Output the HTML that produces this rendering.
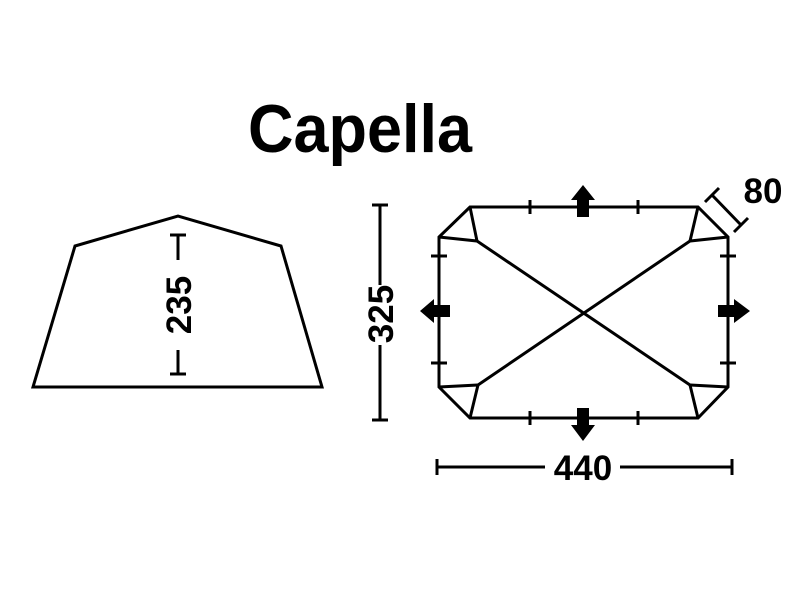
<!DOCTYPE html>
<html><head><meta charset="utf-8"><style>html,body{margin:0;padding:0;background:#fff}</style></head>
<body>
<svg width="800" height="600" viewBox="0 0 800 600" xmlns="http://www.w3.org/2000/svg" font-family="Liberation Sans, sans-serif" font-weight="bold">
<text x="248" y="152" font-size="68" textLength="224" lengthAdjust="spacingAndGlyphs">Capella</text>
<g fill="none" stroke="#000" stroke-width="3">
<polygon points="33,387 75,246 178,216 281,246 322,387"/>
<path d="M178,235V260M178,350V374M170,235H186M170,374H186"/>
<path d="M380,205V285M380,345V420M372,205H388M372,420H388"/>
<path d="M437,467H545M620,467H732M437,459V475M732,459V475"/>
<path d="M712,195L741,225M705,202L719,188M734,232L748,218"/>
<polygon points="470,207 698,207 728,237 728,387 698,418 470,418 439,387 439,237"/>
<path d="M470,207L477,241L439,237M698,207L690,241L728,237M470,418L478,385L439,387M698,418L690,385L728,387"/>
<path d="M477,241L690,385M690,241L478,385"/>
<path d="M530,200V214M638,200V214M530,411V425M638,411V425M431,256H447M431,363H447M720,256H736M720,363H736"/>
</g>
<g fill="#000">
<polygon points="577,217 589,217 589,200 595,200 583,185 571,200 577,200"/>
<polygon points="577,408 589,408 589,425 595,425 583,441 571,425 577,425"/>
<polygon points="450,305 450,317 434,317 434,323 420,311 434,299 434,305"/>
<polygon points="718,305 718,317 734,317 734,323 750,311 734,299 734,305"/>
</g>
<g font-size="35" text-anchor="middle">
<text transform="translate(191,305) rotate(-90)">235</text>
<text transform="translate(393,314) rotate(-90)">325</text>
<text x="583" y="480">440</text>
<text x="763" y="203">80</text>
</g>
</svg>
</body></html>
